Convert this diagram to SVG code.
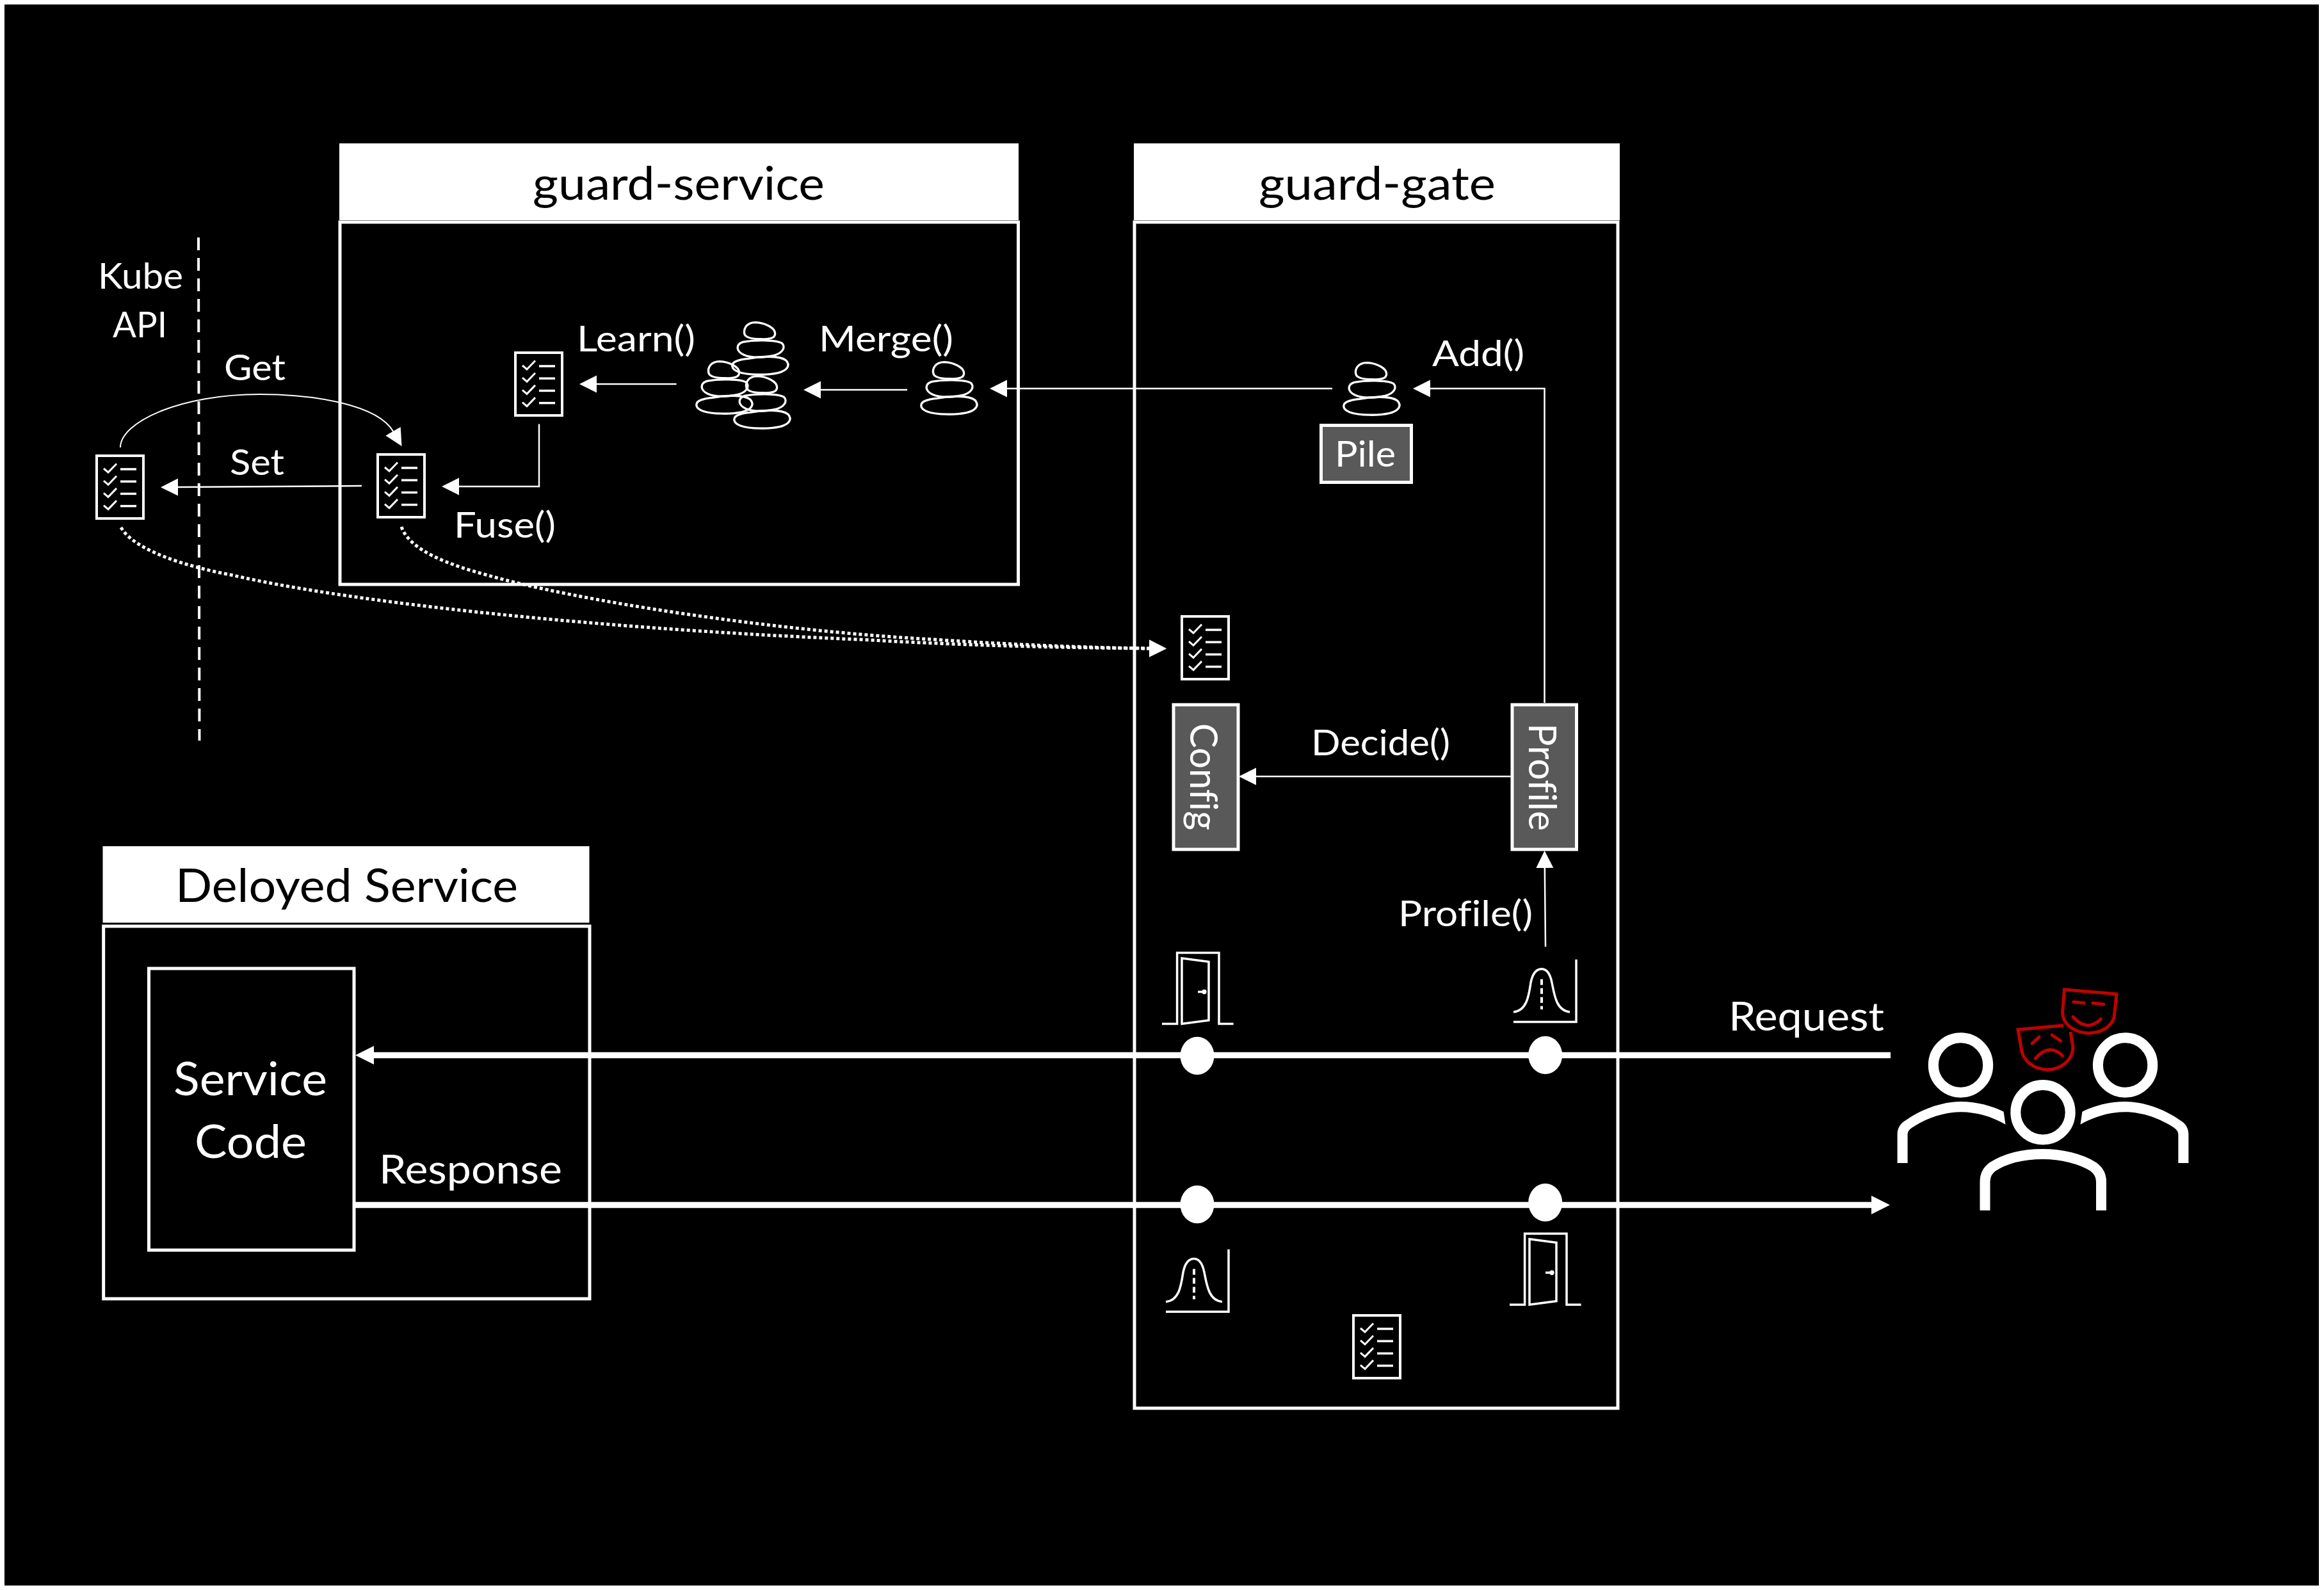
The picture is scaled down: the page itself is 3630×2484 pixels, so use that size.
<svg xmlns="http://www.w3.org/2000/svg" xmlns:xlink="http://www.w3.org/1999/xlink" width="3630" height="2484" viewBox="0 0 3630 2484">
<style>
text{font-family:"Lato","Open Sans","Noto Sans",sans-serif;fill:#fff;font-variant-ligatures:none}
.t{font-size:57px}
.h{font-size:72px;fill:#000}
.b{font-size:72px}
.r{font-size:62px}
.frame{fill:none;stroke:#fff;stroke-width:5}
.head{fill:#fff}
.tag{fill:#595959;stroke:#fff;stroke-width:5}
.thin{fill:none;stroke:#fff;stroke-width:2.5}
.thick{fill:none;stroke:#fff;stroke-width:9.5}
.dot{fill:none;stroke:#fff;stroke-width:5;stroke-dasharray:5 4}
.ic{fill:none;stroke:#fff;stroke-width:3.5}
.st{fill:none;stroke:#fff;stroke-width:10}
.red{fill:none;stroke:#C00000;stroke-width:5;stroke-linecap:round;stroke-linejoin:miter}
.pp{fill:none;stroke:#fff;stroke-width:16}
</style>
<defs>
<marker id="a" markerUnits="userSpaceOnUse" markerWidth="28" markerHeight="28" viewBox="0 0 28 28" refX="1" refY="14" orient="auto"><polygon points="0,0.5 27,14 0,27.5" fill="#fff"/></marker>
<marker id="b" markerUnits="userSpaceOnUse" markerWidth="30" markerHeight="30" viewBox="0 0 30 30" refX="1" refY="15" orient="auto"><polygon points="0,0.5 29,15 0,29.5" fill="#fff"/></marker>
<g id="list">
<rect x="2" y="2" width="73" height="98" fill="none" stroke="#fff" stroke-width="4"/>
<g id="row"><path d="M13 22l7 6L33 14.500" fill="none" stroke="#fff" stroke-width="3"/><path d="M39 23H64" stroke="#fff" stroke-width="3.500"/></g>
<use xlink:href="#row" href="#row" y="19.200"/><use xlink:href="#row" href="#row" y="38.400"/><use xlink:href="#row" href="#row" y="57.600"/>
</g>
<g id="stones" transform="translate(2000 480) scale(.33333)">
<path class="st" d="M355 318C345 290 365 260 405 260C450 262 497 285 497 312C497 335 470 340 430 338C395 338 365 335 355 318Z"/>
<path class="st" d="M345 352C395 342 500 340 530 358C548 378 530 405 490 415C440 425 385 428 350 412C315 395 310 365 345 352Z"/>
<path class="st" d="M370 430C430 418 520 415 548 438C570 462 555 485 510 497C460 508 370 508 325 492C285 475 290 450 320 440C340 432 355 432 370 430Z"/>
</g>
<g id="door">
<path class="ic" d="M1815 1599.500H1838.600V1488.500H1904V1599.500H1926.600"/>
<path class="ic" d="M1846 1497L1888 1502.500V1594L1846 1599.500Z"/>
<path class="ic" d="M1871 1549.500H1878"/><circle cx="1881" cy="1549.500" r="3.700" fill="#fff"/>
</g>
<g id="bell">
<path class="ic" d="M2364 1596.600H2462V1499"/>
<path class="ic" d="M2364 1581C2385 1579 2388 1555 2391 1535C2394 1520 2400 1513.700 2408 1513.700C2416 1513.700 2421 1520 2424 1535C2428 1555 2431 1579 2452 1581"/>
<path d="M2408 1529.700V1577" fill="none" stroke="#fff" stroke-width="4" stroke-dasharray="9 5"/>
</g>
</defs>

<rect width="3630" height="2484" fill="#fff"/>
<rect x="7" y="7" width="3615" height="2470" fill="#000"/>

<g id="guard-service">
<rect class="head" x="530" y="224" width="1061" height="120"/>
<rect class="frame" x="531" y="347" width="1059.500" height="566"/>
<text class="h" x="832" y="312" textLength="456" lengthAdjust="spacingAndGlyphs">guard-service</text>
</g>
<g id="guard-gate">
<rect class="head" x="1771" y="224" width="759" height="120"/>
<rect class="frame" x="1772" y="347" width="755" height="1853"/>
<text class="h" x="1966" y="312" textLength="370" lengthAdjust="spacingAndGlyphs">guard-gate</text>
</g>
<g id="deployed-service">
<rect class="head" x="160.500" y="1322" width="760" height="119.500"/>
<rect class="frame" x="161.700" y="1447" width="759.300" height="582"/>
<text class="h" x="274" y="1409" textLength="535" lengthAdjust="spacingAndGlyphs">Deloyed Service</text>
</g>
<g id="service-code">
<rect class="frame" x="232.500" y="1513" width="320.500" height="440"/>
<text class="b" x="271" y="1711" textLength="240" lengthAdjust="spacingAndGlyphs">Service</text>
<text class="b" x="304" y="1809" textLength="175" lengthAdjust="spacingAndGlyphs">Code</text>
</g>

<g id="connectors">
<path d="M310 371L311.500 1157" fill="none" stroke="#fff" stroke-width="4" stroke-dasharray="20 12"/>
<path class="thin" style="stroke-width:2" d="M188 699C188 660 280 616 406 616C490 616 590 632 614.500 674.500" marker-end="url(#a)"/>
<path class="thin" d="M565 759L277 761" marker-end="url(#a)"/>
<path class="thin" d="M842 662.500V760H716" marker-end="url(#a)"/>
<path class="thin" d="M1056.600 600H931" marker-end="url(#a)"/>
<path class="thin" d="M1417 609H1281" marker-end="url(#a)"/>
<path class="thin" d="M2081 607H1572" marker-end="url(#a)"/>
<path class="thin" d="M2412.500 1098V607H2233" marker-end="url(#a)"/>
<path class="thin" d="M2359.500 1213H1961" marker-end="url(#a)"/>
<path class="thin" d="M2414 1479L2412.800 1355" marker-end="url(#a)"/>
<path class="dot" d="M189 824C210 860 290 885 365 899C520 935 880 980 1341 999C1500 1008 1650 1012 1796 1013" marker-end="url(#a)"/>
<path class="dot" d="M627 823C640 860 700 882 763 899C900 938 1200 985 1458 999C1580 1007 1700 1012 1796 1013" marker-end="url(#a)"/>
<path class="thick" d="M2953 1648.400H583" marker-end="url(#b)"/>
<path class="thick" d="M555 1882.500H2924" marker-end="url(#b)"/>
</g>

<g id="labels">
<text class="t" x="153" y="451" textLength="133" lengthAdjust="spacingAndGlyphs">Kube</text>
<text class="t" x="176" y="527" textLength="85" lengthAdjust="spacingAndGlyphs">API</text>
<text class="t" x="350" y="594" textLength="96" lengthAdjust="spacingAndGlyphs">Get</text>
<text class="t" x="359" y="742" textLength="85" lengthAdjust="spacingAndGlyphs">Set</text>
<text class="t" x="709" y="840" textLength="159" lengthAdjust="spacingAndGlyphs">Fuse()</text>
<text class="t" x="901" y="549" textLength="185" lengthAdjust="spacingAndGlyphs">Learn()</text>
<text class="t" x="1279" y="549" textLength="210" lengthAdjust="spacingAndGlyphs">Merge()</text>
<text class="t" x="2237" y="572" textLength="144" lengthAdjust="spacingAndGlyphs">Add()</text>
<text class="t" x="2048" y="1180" textLength="217" lengthAdjust="spacingAndGlyphs">Decide()</text>
<text class="t" x="2184" y="1447" textLength="210" lengthAdjust="spacingAndGlyphs">Profile()</text>
<text class="r" x="2700" y="1610" textLength="243" lengthAdjust="spacingAndGlyphs">Request</text>
<text class="r" x="592" y="1849" textLength="286" lengthAdjust="spacingAndGlyphs">Response</text>
</g>

<g id="pile-tag">
<rect class="tag" x="2063.500" y="664.500" width="141" height="89"/>
<text class="t" x="2085" y="729" textLength="95" lengthAdjust="spacingAndGlyphs">Pile</text>
</g>
<g id="config-tag">
<rect class="tag" x="1833" y="1101" width="101" height="226"/>
<text class="t" transform="translate(1859 1130) rotate(90)" x="0" y="0" textLength="167" lengthAdjust="spacingAndGlyphs" style="font-size:60px">Config</text>
</g>
<g id="profile-tag">
<rect class="tag" x="2362" y="1101" width="100.500" height="226"/>
<text class="t" transform="translate(2388 1130) rotate(90)" x="0" y="0" textLength="168" lengthAdjust="spacingAndGlyphs" style="font-size:60px">Profile</text>
</g>

<g id="list-kube"><use xlink:href="#list" href="#list" x="149" y="710"/></g>
<g id="list-fused"><use xlink:href="#list" href="#list" x="588" y="708"/></g>
<g id="list-learned"><use xlink:href="#list" href="#list" x="803" y="549"/></g>
<g id="list-gate"><use xlink:href="#list" href="#list" x="1844" y="961"/></g>
<g id="list-gate-low"><use xlink:href="#list" href="#list" x="2112" y="2053"/></g>

<g id="pile-gate"><use xlink:href="#stones" href="#stones"/></g>
<g id="pile-merged"><use xlink:href="#stones" href="#stones" x="-660" y="-1"/></g>
<g id="pile-many">
<use xlink:href="#stones" href="#stones" x="-955" y="-63"/>
<use xlink:href="#stones" href="#stones" x="-1011" y="-2"/>
<use xlink:href="#stones" href="#stones" x="-952" y="21"/>
</g>

<g id="gate-in-door"><use xlink:href="#door" href="#door"/></g>
<g id="gate-out-door"><use xlink:href="#door" href="#door" x="543" y="438.700"/></g>
<g id="gate-in-bell"><use xlink:href="#bell" href="#bell"/></g>
<g id="gate-out-bell"><use xlink:href="#bell" href="#bell" x="-543" y="452.700"/></g>

<g id="tap-points" fill="#fff">
<ellipse cx="1870" cy="1649.400" rx="26.500" ry="29.600"/>
<ellipse cx="2413.700" cy="1648.400" rx="26.500" ry="29.600"/>
<ellipse cx="1870" cy="1881.600" rx="26.500" ry="29.600"/>
<ellipse cx="2413.700" cy="1878.700" rx="26.500" ry="29.600"/>
</g>

<g id="users">
<circle class="pp" cx="3062.500" cy="1664" r="42.700"/>
<circle class="pp" cx="3319.600" cy="1664" r="42.700"/>
<circle class="pp" cx="3191" cy="1737.700" r="42.700"/>
<path fill="#fff" d="M2963.600 1817V1772C2963.600 1763 2968 1755 2977 1750C3002 1732 3035 1721 3062.500 1721C3088 1721 3112 1728 3129.600 1736.700L3132.500 1756.700C3112 1745 3088 1737.300 3062.500 1737.300C3035 1737.300 3007 1748 2986 1762C2982 1765 2979.600 1768 2979.600 1772V1817Z"/>
<path fill="#fff" transform="translate(6382 0) scale(-1 1)" d="M2963.600 1817V1772C2963.600 1763 2968 1755 2977 1750C3002 1732 3035 1721 3062.500 1721C3088 1721 3112 1728 3129.600 1736.700L3132.500 1756.700C3112 1745 3088 1737.300 3062.500 1737.300C3035 1737.300 3007 1748 2986 1762C2982 1765 2979.600 1768 2979.600 1772V1817Z"/>
<path class="pp" d="M3100.500 1891V1846C3100.500 1836 3104 1829 3112 1823C3135 1808 3163 1803 3191 1803C3219 1803 3250 1810 3270 1823C3278 1829 3282 1836 3282 1846V1891"/>
</g>
<g id="masks">
<path class="red" style="stroke-linecap:butt" d="M3224.500 1546L3306 1553L3302 1590C3297 1605 3281 1614 3261 1614C3240 1613 3222 1600 3221.500 1582Z"/>
<path class="red" d="M3239 1565.300L3255 1567M3269 1567L3285.700 1569M3238 1588.700Q3260 1613 3281.400 1592"/>
<path class="red" style="stroke-linecap:butt" d="M3223 1602L3152 1608.500L3157.500 1640C3160 1657 3177 1671 3198 1671C3220 1671 3238 1655 3238 1636L3234 1612"/>
<path class="red" d="M3174 1630L3185 1620M3205 1617L3218.600 1626M3179.300 1653.300Q3201 1629 3221.400 1649.300"/>
</g>
</svg>
